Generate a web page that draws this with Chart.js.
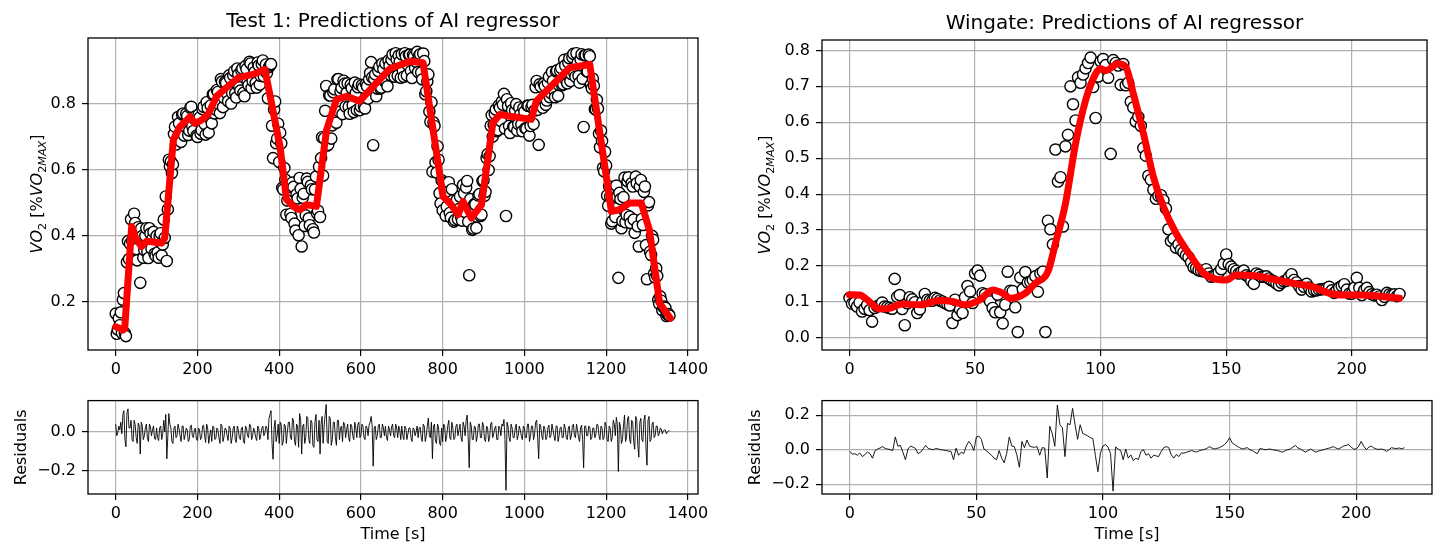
<!DOCTYPE html>
<html><head><meta charset="utf-8">
<script src="https://cdn.jsdelivr.net/npm/chart.js@4.4.1/dist/chart.umd.min.js"></script>
<style>
html,body{margin:0;padding:0;background:#fff;}
body{width:1434px;height:548px;position:relative;overflow:hidden;}
.box{position:absolute;}
canvas{display:block;}
</style></head><body>
<div class="box" style="left:0;top:0;"><canvas id="c1" width="720" height="385" style="width:720px;height:385px"></canvas></div>
<div class="box" style="left:720px;top:0;"><canvas id="c2" width="714" height="385" style="width:714px;height:385px"></canvas></div>
<div class="box" style="left:0;top:385px;"><canvas id="c3" width="720" height="163" style="width:720px;height:163px"></canvas></div>
<div class="box" style="left:720px;top:385px;"><canvas id="c4" width="714" height="163" style="width:714px;height:163px"></canvas></div>
<script>
// ---------- Test 1 data ----------
const t1Step = 5;      // samples A at 0,5,10,... s
const t1Offset = 2.5;  // samples B at 2.5,7.5,... s
const t1ObsA = [
0.165,0.117,0.13,0.107,0.227,0.097,0.384,0.376,0.385,0.467,0.36,0.426,0.258,0.4,0.357,0.423,0.333,0.407,0.392,0.346,
0.4,0.334,0.408,0.374,0.394,0.324,0.63,0.625,0.616,0.73,0.692,0.74,0.684,0.77,0.731,0.762,0.718,0.79,0.717,0.761,
0.699,0.757,0.72,0.79,0.706,0.786,0.757,0.74,0.829,0.782,0.835,0.771,0.866,0.817,0.862,0.807,0.877,0.832,0.898,0.818,
0.888,0.839,0.906,0.822,0.904,0.855,0.921,0.868,0.895,0.848,0.915,0.883,0.93,0.898,0.892,0.91,0.919,0.635,0.806,0.694,
0.623,0.68,0.54,0.57,0.507,0.548,0.454,0.548,0.416,0.513,0.575,0.368,0.527,0.462,0.563,0.432,0.541,0.41,0.579,0.476,
0.457,0.698,0.695,0.853,0.675,0.824,0.734,0.843,0.742,0.874,0.836,0.768,0.86,0.832,0.79,0.857,0.795,0.863,0.78,0.858,
0.791,0.848,0.785,0.852,0.873,0.925,0.674,0.888,0.845,0.911,0.848,0.904,0.921,0.852,0.914,0.932,0.889,0.952,0.884,0.926,
0.949,0.881,0.943,0.916,0.948,0.877,0.942,0.926,0.895,0.949,0.873,0.928,0.837,0.888,0.745,0.594,0.732,0.591,0.63,0.498,
0.477,0.544,0.488,0.562,0.455,0.507,0.448,0.509,0.481,0.457,0.554,0.472,0.566,0.281,0.484,0.422,0.495,0.458,0.526,0.464,
0.568,0.533,0.647,0.641,0.765,0.735,0.782,0.72,0.787,0.806,0.829,0.46,0.792,0.711,0.78,0.729,0.798,0.738,0.767,0.716,
0.775,0.724,0.793,0.732,0.796,0.779,0.868,0.675,0.851,0.787,0.853,0.809,0.881,0.832,0.868,0.819,0.9,0.856,0.907,0.858,
0.915,0.861,0.937,0.889,0.95,0.881,0.922,0.863,0.949,0.729,0.946,0.897,0.943,0.846,0.854,0.782,0.785,0.668,0.687,0.595,
0.613,0.491,0.519,0.444,0.516,0.552,0.273,0.511,0.445,0.576,0.463,0.577,0.439,0.549,0.409,0.559,0.368,0.569,0.433,0.549,
0.269,0.502,0.342,0.388,0.274,0.279,0.195,0.204,0.185,0.182,0.163,0.159];
const t1ObsB = [
0.104,0.151,0.169,0.207,0.106,0.32,0.33,0.45,0.366,0.439,0.326,0.407,0.422,0.334,0.40,0.353,0.423,0.362,0.412,0.34,
0.35,0.399,0.341,0.449,0.519,0.48,0.61,0.59,0.708,0.676,0.759,0.71,0.767,0.703,0.769,0.705,0.787,0.731,0.754,0.703,
0.766,0.709,0.783,0.738,0.804,0.712,0.794,0.827,0.77,0.841,0.798,0.874,0.789,0.865,0.83,0.885,0.80,0.885,0.831,0.906,
0.849,0.90,0.832,0.913,0.865,0.926,0.847,0.909,0.862,0.924,0.857,0.919,0.882,0.918,0.816,0.915,0.733,0.782,0.68,0.739,
0.712,0.545,0.605,0.464,0.553,0.466,0.561,0.437,0.525,0.402,0.542,0.515,0.43,0.573,0.453,0.552,0.42,0.54,0.468,0.609,
0.635,0.582,0.778,0.673,0.825,0.694,0.834,0.773,0.873,0.775,0.847,0.869,0.791,0.861,0.769,0.846,0.774,0.832,0.849,0.78,
0.855,0.792,0.859,0.815,0.892,0.879,0.875,0.822,0.898,0.845,0.921,0.868,0.864,0.93,0.886,0.948,0.881,0.933,0.945,0.878,
0.90,0.952,0.885,0.947,0.898,0.947,0.907,0.956,0.945,0.894,0.951,0.828,0.867,0.776,0.804,0.743,0.622,0.671,0.529,0.568,
0.561,0.461,0.535,0.469,0.541,0.443,0.504,0.45,0.519,0.446,0.528,0.546,0.443,0.511,0.418,0.496,0.424,0.522,0.46,0.566,
0.521,0.635,0.599,0.733,0.70,0.769,0.716,0.794,0.747,0.796,0.724,0.813,0.732,0.801,0.73,0.779,0.718,0.788,0.737,0.786,
0.725,0.794,0.703,0.789,0.738,0.849,0.781,0.858,0.804,0.86,0.796,0.863,0.819,0.895,0.841,0.897,0.823,0.899,0.855,0.932,
0.868,0.924,0.868,0.94,0.891,0.952,0.883,0.934,0.875,0.946,0.897,0.948,0.857,0.875,0.783,0.811,0.709,0.718,0.606,0.654,
0.522,0.55,0.437,0.535,0.457,0.518,0.53,0.423,0.517,0.441,0.565,0.458,0.559,0.449,0.579,0.429,0.549,0.451,0.533,0.372,
0.492,0.352,0.40,0.286,0.302,0.207,0.217,0.175,0.186,0.158,0.164];
const t1ResA = [
0.04,-0.005,0.01,-0.01,0.11,-0.077,0.119,0.02,-0.04,0.06,-0.03,0.045,-0.115,0.03,-0.02,0.04,-0.05,0.025,0.01,-0.035,
0.02,-0.045,0.03,-0.01,0.0,-0.14,0.095,0.02,-0.06,0.03,-0.02,0.015,-0.05,0.03,-0.015,0.01,-0.04,0.035,-0.03,0.02,
-0.045,0.01,-0.03,0.035,-0.055,0.02,-0.02,-0.05,0.025,-0.035,0.01,-0.06,0.03,-0.025,0.015,-0.045,0.02,-0.03,0.03,-0.055,
0.01,-0.04,0.025,-0.06,0.02,-0.03,0.035,-0.02,0.005,-0.045,0.02,-0.015,0.03,-0.005,0.02,0.07,0.11,-0.142,0.06,-0.02,
-0.06,0.04,-0.05,0.03,0.0,0.05,-0.04,0.06,-0.07,0.03,0.095,-0.115,0.04,-0.03,0.07,-0.06,0.05,-0.08,0.09,-0.05,
-0.115,0.08,0.03,0.142,-0.06,0.07,-0.04,0.05,-0.07,0.06,0.02,-0.05,0.04,0.01,-0.03,0.04,-0.02,0.05,-0.03,0.05,
-0.02,0.03,-0.04,0.02,0.035,0.08,-0.178,0.03,-0.02,0.04,-0.03,0.02,0.03,-0.045,0.01,0.025,-0.02,0.04,-0.03,0.01,
0.03,-0.04,0.02,-0.01,0.02,-0.05,0.015,0.0,-0.03,0.025,-0.05,0.03,-0.02,0.072,-0.03,-0.139,0.04,-0.06,0.02,-0.07,
-0.05,0.03,-0.02,0.06,-0.04,0.02,-0.03,0.04,0.01,-0.03,0.05,-0.02,0.087,-0.186,0.03,-0.04,0.025,-0.02,0.04,-0.03,
0.03,-0.05,0.02,-0.03,0.05,-0.01,0.03,-0.04,0.02,0.04,0.064,-0.303,0.03,-0.05,0.02,-0.03,0.04,-0.02,0.01,-0.04,
0.02,-0.03,0.04,-0.02,0.03,-0.01,0.06,-0.139,0.03,-0.04,0.02,-0.03,0.035,-0.02,0.01,-0.045,0.03,-0.02,0.025,-0.03,
0.02,-0.04,0.03,-0.02,0.04,-0.03,0.01,-0.05,0.035,-0.186,0.03,-0.02,0.025,-0.03,0.02,-0.01,0.035,-0.04,0.02,-0.03,
0.03,-0.05,0.02,-0.03,0.04,0.075,-0.205,0.03,-0.04,0.087,-0.03,0.08,-0.06,0.05,-0.09,0.06,-0.131,0.07,-0.05,0.087,
-0.173,0.08,-0.04,0.05,-0.02,0.03,-0.01,0.015,0.005,0.01,0.0,0.005];
const t1ResB = [
-0.02,0.03,0.05,0.09,-0.04,0.10,0.02,0.06,-0.05,0.04,-0.06,0.03,0.05,-0.04,0.02,-0.03,0.04,-0.02,0.03,-0.04,
-0.03,0.02,-0.04,0.06,0.09,-0.02,0.04,-0.05,0.02,-0.03,0.04,-0.02,0.03,-0.04,0.02,-0.05,0.03,-0.02,0.01,-0.04,
0.02,-0.04,0.03,-0.02,0.04,-0.06,0.01,0.03,-0.04,0.02,-0.03,0.04,-0.05,0.02,-0.02,0.03,-0.06,0.02,-0.04,0.03,
-0.03,0.02,-0.05,0.03,-0.02,0.04,-0.04,0.02,-0.03,0.03,-0.04,0.02,-0.02,0.03,-0.04,0.09,-0.06,0.02,-0.05,0.04,
0.05,-0.07,0.04,-0.06,0.05,-0.03,0.07,-0.05,0.04,-0.08,0.06,0.03,-0.06,0.08,-0.04,0.06,-0.07,0.05,-0.04,0.06,
0.04,-0.06,0.09,-0.05,0.08,-0.07,0.05,-0.03,0.06,-0.04,0.03,0.05,-0.03,0.04,-0.05,0.03,-0.04,0.02,0.04,-0.03,
0.04,-0.03,0.03,-0.02,0.05,0.03,0.02,-0.04,0.03,-0.03,0.04,-0.02,-0.03,0.03,-0.02,0.04,-0.03,0.02,0.03,-0.04,
-0.02,0.03,-0.04,0.02,-0.03,0.02,-0.02,0.03,0.02,-0.03,0.04,-0.05,0.03,-0.02,0.05,0.03,-0.05,0.04,-0.06,0.02,
0.04,-0.05,0.03,-0.03,0.05,-0.04,0.03,-0.02,0.04,-0.05,0.03,0.06,-0.03,0.05,-0.04,0.03,-0.05,0.04,-0.03,0.05,
-0.04,0.03,-0.05,0.04,-0.03,0.02,-0.04,0.03,-0.02,0.03,-0.04,0.05,-0.03,0.04,-0.03,0.02,-0.04,0.03,-0.02,0.03,
-0.03,0.04,-0.05,0.03,-0.04,0.05,-0.03,0.04,-0.02,0.03,-0.04,0.02,-0.03,0.04,-0.02,0.03,-0.05,0.02,-0.03,0.04,
-0.03,0.02,-0.04,0.03,-0.02,0.04,-0.03,0.02,-0.04,0.03,-0.02,0.03,-0.04,0.02,-0.03,0.04,-0.02,0.03,-0.04,0.05,
-0.04,0.03,-0.05,0.06,-0.02,0.04,0.05,-0.06,0.03,-0.05,0.07,-0.04,0.06,-0.05,0.08,-0.07,0.05,-0.04,0.06,-0.08,
0.06,-0.05,0.04,-0.03,0.03,-0.02,0.02,-0.01,0.01,-0.01,0.005];
const t1PredT = [0,10,18,22,39,50,63,76,100,112,120,141,157,182,194,210,226,247,271,300,336,365,402,418,434,451,467,491,516,540,565,597,630,671,720,752,801,821,838,850,870,895,923,940,960,1017,1029,1070,1111,1160,1213,1233,1257,1286,1306,1331,1357];
const t1PredV = [0.125,0.12,0.115,0.12,0.428,0.39,0.368,0.384,0.38,0.378,0.394,0.69,0.73,0.76,0.74,0.75,0.767,0.822,0.848,0.878,0.888,0.903,0.67,0.51,0.489,0.479,0.494,0.489,0.72,0.812,0.822,0.807,0.852,0.905,0.928,0.923,0.519,0.494,0.464,0.504,0.454,0.494,0.742,0.767,0.762,0.752,0.807,0.858,0.908,0.918,0.474,0.479,0.499,0.499,0.418,0.196,0.151];

// ---------- Wingate data ----------
const wgStep = 1;
const wgObs = [
0.111,0.095,0.097,0.087,0.098,0.073,0.081,0.091,0.077,0.045,
0.083,0.088,0.091,0.098,0.087,0.085,0.083,0.081,0.164,0.114,
0.119,0.08,0.035,0.096,0.113,0.107,0.099,0.069,0.079,0.1,
0.122,0.106,0.104,0.103,0.111,0.108,0.104,0.101,0.097,0.093,
0.09,0.041,0.106,0.063,0.079,0.069,0.113,0.144,0.129,0.097,
0.179,0.187,0.173,0.124,0.121,0.111,0.101,0.083,0.071,0.12,
0.071,0.04,0.092,0.184,0.131,0.13,0.085,0.016,0.168,0.135,
0.183,0.154,0.156,0.161,0.171,0.128,0.179,0.184,0.016,0.326,
0.302,0.26,0.524,0.435,0.447,0.31,0.533,0.565,0.7,0.65,
0.605,0.725,0.71,0.733,0.75,0.765,0.78,0.698,0.612,0.727,
0.77,0.776,0.759,0.724,0.512,0.773,0.765,0.758,0.704,0.762,
0.703,0.71,0.657,0.641,0.602,0.615,0.59,0.528,0.507,0.451,
0.44,0.412,0.387,0.395,0.397,0.383,0.36,0.302,0.269,0.276,
0.251,0.26,0.245,0.238,0.23,0.224,0.21,0.196,0.194,0.188,
0.186,0.185,0.191,0.179,0.17,0.172,0.175,0.182,0.191,0.206,
0.232,0.205,0.198,0.191,0.186,0.179,0.183,0.187,0.174,0.169,
0.158,0.15,0.179,0.175,0.17,0.17,0.171,0.165,0.16,0.157,
0.151,0.146,0.153,0.157,0.159,0.169,0.177,0.161,0.154,0.144,
0.134,0.142,0.15,0.14,0.129,0.132,0.132,0.134,0.135,0.136,
0.138,0.142,0.132,0.125,0.132,0.14,0.144,0.149,0.134,0.123,
0.123,0.139,0.167,0.139,0.119,0.133,0.139,0.127,0.121,0.118,
0.12,0.115,0.105,0.114,0.125,0.121,0.119,0.121,0.116,0.122];
const wgRes = [
-0.009,-0.026,-0.023,-0.032,-0.019,-0.04,-0.028,-0.014,-0.023,-0.049,
-0.005,0.004,0.01,0.018,0.007,0.004,0.0,-0.005,0.074,0.021,
0.025,-0.014,-0.058,0.004,0.021,0.015,0.007,-0.023,-0.014,0.005,
0.025,0.007,0.003,0.0,0.007,0.004,0.0,-0.002,-0.005,-0.008,
-0.01,-0.058,0.009,-0.032,-0.014,-0.023,0.02,0.048,0.03,-0.005,
0.074,0.079,0.06,0.004,-0.005,-0.02,-0.032,-0.049,-0.058,-0.005,
-0.049,-0.076,-0.02,0.074,0.021,0.018,-0.03,-0.102,0.048,0.012,
0.056,0.021,0.016,0.014,0.018,-0.032,0.012,0.01,-0.164,0.136,
0.092,0.02,0.259,0.145,0.127,-0.04,0.153,0.145,0.24,0.145,
0.06,0.145,0.095,0.088,0.08,0.07,0.065,-0.032,-0.128,-0.02,
0.021,0.03,0.015,-0.023,-0.24,0.016,0.004,-0.005,-0.058,0.004,
-0.049,-0.03,-0.063,-0.049,-0.058,-0.01,0.0,-0.032,-0.023,-0.049,
-0.032,-0.036,-0.04,-0.01,0.012,0.018,0.012,-0.03,-0.049,-0.028,
-0.04,-0.018,-0.02,-0.014,-0.01,-0.005,-0.01,-0.014,-0.006,-0.002,
0.002,0.007,0.018,0.01,0.004,0.008,0.012,0.02,0.03,0.045,
0.07,0.04,0.03,0.02,0.012,0.004,0.008,0.012,0.0,-0.005,
-0.015,-0.023,0.007,0.004,0.0,0.002,0.004,0.0,-0.003,-0.005,
-0.01,-0.014,-0.005,0.0,0.004,0.015,0.025,0.01,0.004,-0.005,
-0.014,-0.005,0.004,-0.005,-0.014,-0.008,-0.005,0.0,0.004,0.008,
0.012,0.018,0.01,0.004,0.012,0.021,0.025,0.03,0.015,0.004,
0.004,0.02,0.048,0.02,0.0,0.015,0.021,0.01,0.004,0.002,
0.004,0.0,-0.01,0.0,0.012,0.008,0.007,0.01,0.005,0.012];
const wgPredT = [0,4,7,12,16,21,28,36,41,46,52,57,61,64,70,74,79,82,86,90,94,98,100,102,107,110,113,117,121,125,130,136,141,146,150,154,162,170,178,184,191,196,204,212,219];
const wgPredV = [0.12,0.119,0.106,0.08,0.082,0.094,0.092,0.104,0.101,0.092,0.106,0.133,0.124,0.11,0.124,0.152,0.184,0.263,0.374,0.54,0.661,0.735,0.749,0.744,0.763,0.754,0.68,0.57,0.448,0.365,0.291,0.226,0.18,0.163,0.161,0.175,0.172,0.161,0.15,0.143,0.124,0.119,0.119,0.115,0.11];

// ---------- ticks ----------
const t1XTicks = [0,200,400,600,800,1000,1200,1400];
const t1XLabels = ['0','200','400','600','800','1000','1200','1400'];
const t1YTicks = [0.2,0.4,0.6,0.8];
const t1YLabels = ['0.2','0.4','0.6','0.8'];
const t1RYTicks = [-0.2,0.0];
const t1RYLabels = ['\u22120.2','0.0'];
const wgXTicks = [0,50,100,150,200];
const wgXLabels = ['0','50','100','150','200'];
const wgYTicks = [0,0.1,0.2,0.3,0.4,0.5,0.6,0.7,0.8];
const wgYLabels = ['0.0','0.1','0.2','0.3','0.4','0.5','0.6','0.7','0.8'];
const wgRYTicks = [-0.2,0.0,0.2];
const wgRYLabels = ['\u22120.2','0.0','0.2'];

const FONT = "'DejaVu Sans', sans-serif";
Chart.defaults.font.family = FONT;

// merge the two interleaved Test 1 sample sets in time order
function interleave(a, b) {
  const out = [];
  a.forEach((y, i) => {
    out.push({x: i * t1Step, y});
    if (i < b.length) out.push({x: i * t1Step + t1Offset, y: b[i]});
  });
  return out;
}

function makeScale(o) {
  return {
    type:'linear', min:o.min, max:o.max, position:o.pos,
    afterBuildTicks: sc => { sc.ticks = o.ticks.map(v => ({value:v})); },
    afterFit: sc => { if (o.pos === 'left') sc.width = o.size; else sc.height = o.size; },
    ticks:{ autoSkip:false, maxRotation:0, minRotation:0, padding:o.pad, color:'#000',
            font:{family:FONT,size:16}, callback:(v,i)=>o.labels[i] },
    grid:{ color:'#b0b0b0', lineWidth:1.2, drawTicks:true, tickLength:6, tickColor:'#000', tickWidth:1.2 },
    border:{display:false},
    title: o.title ? {display:true, text:o.title, color:'#000', font:{family:FONT,size:16}, padding:o.titlePad} : {display:false}
  };
}

const boxPlugin = { id:'boxFrame', afterDraw(chart){ const {ctx, chartArea:a} = chart; ctx.save(); ctx.strokeStyle='#000'; ctx.lineWidth=1.3; ctx.strokeRect(a.left, a.top, a.right-a.left, a.bottom-a.top); ctx.restore(); } };

function richYLabel(cx) {
  const parts = [
    {t:'VO', it:true, sub:false},
    {t:'2', it:false, sub:true},
    {t:' [%', it:false, sub:false},
    {t:'VO', it:true, sub:false},
    {t:'2', it:false, sub:true},
    {t:'MAX', it:true, sub:true},
    {t:']', it:false, sub:false}
  ];
  return { id:'richY', afterDraw(chart){
    const ctx = chart.ctx, a = chart.chartArea;
    const cy = (a.top + a.bottom)/2;
    const fnt = p => (p.it ? 'italic ' : '') + (p.sub ? '11.2px ' : '16px ') + FONT;
    ctx.save();
    let total = 0;
    parts.forEach(p => { ctx.font = fnt(p); p.w = ctx.measureText(p.t).width; total += p.w; });
    ctx.translate(cx, cy); ctx.rotate(-Math.PI/2);
    ctx.fillStyle = '#000'; ctx.textBaseline = 'alphabetic'; ctx.textAlign = 'left';
    let x = -total/2;
    parts.forEach(p => { ctx.font = fnt(p); ctx.fillText(p.t, x, p.sub ? 4 + 3.5 : 4); x += p.w; });
    ctx.restore();
  }};
}

const obsStyle = { showLine:false, pointRadius:5.6, pointBorderWidth:1.4, backgroundColor:'#fff', borderColor:'#000', pointBackgroundColor:'#fff', pointBorderColor:'#000', order:1 };
const predStyle = { showLine:true, borderColor:'#ff0000', borderWidth:7, pointRadius:0, order:0, borderJoinStyle:'round', borderCapStyle:'round' };
const resStyle = { showLine:true, borderColor:'#000', borderWidth:0.9, pointRadius:0, tension:0 };

function baseOpts(padding, title, titlePad) {
  return {
    responsive:false, animation:false, events:[],
    layout:{ padding },
    plugins:{ legend:{display:false}, tooltip:{enabled:false},
      title: title ? { display:true, text:title, fullSize:false, color:'#000', font:{family:FONT, size:20, weight:'normal'}, padding:titlePad } : {display:false} }
  };
}

// Chart 1: Test 1 predictions
const o1 = baseOpts({left:0,right:22,top:0,bottom:0}, 'Test 1: Predictions of AI regressor', {top:10,bottom:4});
o1.scales = {
  x: makeScale({min:-67.85, max:1424.85, pos:'bottom', ticks:t1XTicks, labels:t1XLabels, size:35, pad:4}),
  y: makeScale({min:0.055, max:0.998, pos:'left', ticks:t1YTicks, labels:t1YLabels, size:88, pad:6})
};
new Chart(document.getElementById('c1'), {
  type:'scatter',
  data:{ datasets:[
    Object.assign({ data: t1PredT.map((x,i)=>({x, y:t1PredV[i]})), tension:0 }, predStyle),
    Object.assign({ data: interleave(t1ObsA, t1ObsB) }, obsStyle)
  ]},
  options:o1,
  plugins:[boxPlugin, richYLabel(38)]
});

// Chart 2: Wingate predictions
const o2 = baseOpts({left:0,right:2,top:0,bottom:0}, 'Wingate: Predictions of AI regressor', {top:12,bottom:4});
o2.scales = {
  x: makeScale({min:-10.95, max:229.95, pos:'bottom', ticks:wgXTicks, labels:wgXLabels, size:35, pad:4}),
  y: makeScale({min:-0.034, max:0.829, pos:'left', ticks:wgYTicks, labels:wgYLabels, size:102, pad:6})
};
new Chart(document.getElementById('c2'), {
  type:'scatter',
  data:{ datasets:[
    Object.assign({ data: wgPredT.map((x,i)=>({x, y:wgPredV[i]})), tension:0.4, cubicInterpolationMode:'monotone' }, predStyle),
    Object.assign({ data: wgObs.map((y,i)=>({x:i*wgStep, y})) }, obsStyle)
  ]},
  options:o2,
  plugins:[boxPlugin, richYLabel(46)]
});

// Chart 3: Test 1 residuals
const o3 = baseOpts({left:0,right:22,top:6,bottom:0});
o3.scales = {
  x: makeScale({min:-67.85, max:1424.85, pos:'bottom', ticks:t1XTicks, labels:t1XLabels, size:54, pad:4, title:'Time [s]', titlePad:{top:0,bottom:3.4}}),
  y: makeScale({min:-0.322, max:0.162, pos:'left', ticks:t1RYTicks, labels:t1RYLabels, size:88, pad:6, title:'Residuals', titlePad:{top:12.4,bottom:0}})
};
new Chart(document.getElementById('c3'), {
  type:'scatter',
  data:{ datasets:[ Object.assign({ data: interleave(t1ResA, t1ResB) }, resStyle) ]},
  options:o3,
  plugins:[boxPlugin]
});

// Chart 4: Wingate residuals
const o4 = baseOpts({left:0,right:2,top:7,bottom:0});
o4.scales = {
  x: makeScale({min:-10.95, max:229.95, pos:'bottom', ticks:wgXTicks, labels:wgXLabels, size:54, pad:4, title:'Time [s]', titlePad:{top:0,bottom:3.4}}),
  y: makeScale({min:-0.257, max:0.285, pos:'left', ticks:wgRYTicks, labels:wgRYLabels, size:102, pad:6, title:'Residuals', titlePad:{top:26.4,bottom:0}})
};
new Chart(document.getElementById('c4'), {
  type:'scatter',
  data:{ datasets:[ Object.assign({ data: wgRes.map((y,i)=>({x:i*wgStep, y})) }, resStyle) ]},
  options:o4,
  plugins:[boxPlugin]
});
</script>
</body></html>
